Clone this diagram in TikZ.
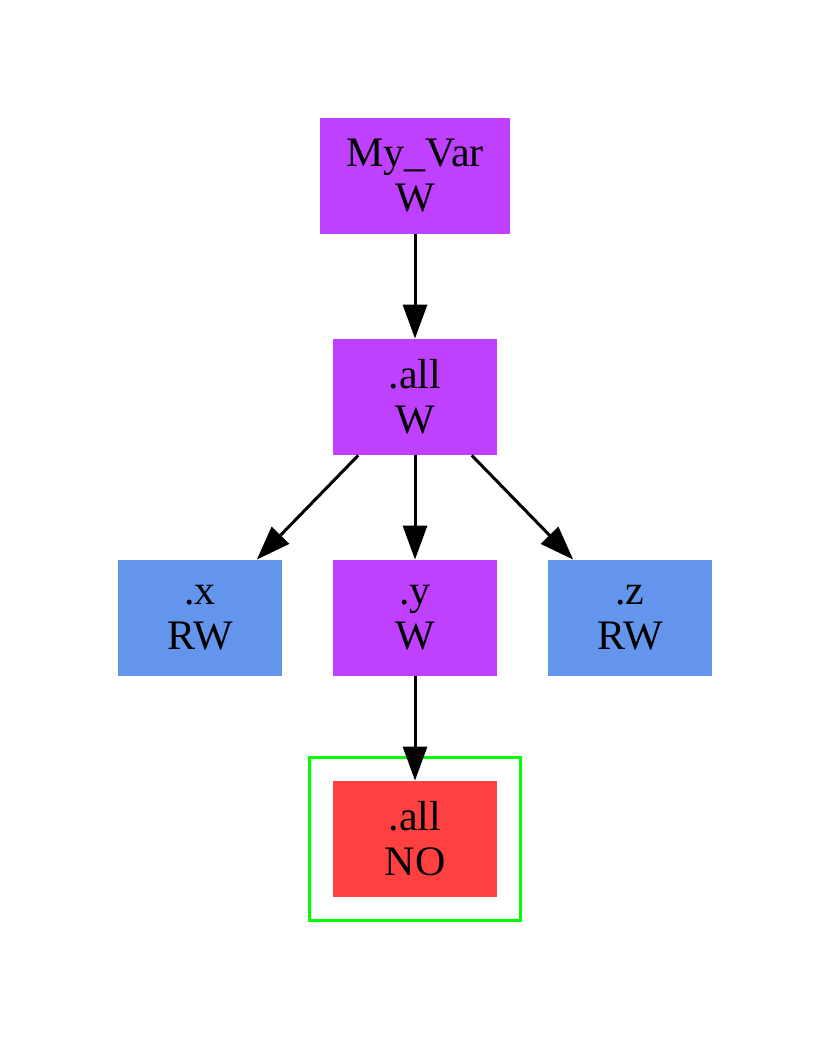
\documentclass[tikz,border=0pt]{standalone}
\usepackage{fontspec}
\setmainfont{Liberation Serif}
\usetikzlibrary{arrows.meta,fit}
\definecolor{figP}{RGB}{191,64,255}
\definecolor{figB}{RGB}{100,149,237}
\definecolor{figR}{RGB}{255,64,64}
\definecolor{figG}{RGB}{0,255,0}

\begin{document}
\begin{tikzpicture}[x=0.5pt,y=-0.5pt,>={Triangle[length=17pt,width=12pt]},
  var/.style={rectangle,minimum width=82pt,minimum height=58pt,inner sep=2pt,align=center,font=\fontsize{21}{22.5}\selectfont},
  edge/.style={->,line width=1.5pt,black}]
\useasboundingbox (0,0) rectangle (830,1063);
\node[var,fill=figP,minimum width=95pt] (myvar) at (415,176) {My\_Var\\W};
\node[var,fill=figP] (all) at (415,397) {.all\\W};
\node[var,fill=figB] (x) at (200,618) {.x\\RW};
\node[var,fill=figP] (y) at (415,618) {.y\\W};
\node[var,fill=figB] (z) at (630,618) {.z\\RW};
\node[var,fill=figR] (allno) at (415,839) {.all\\NO};
\node[draw=figG,line width=1.4pt,inner sep=11.5pt,fit=(allno)] (clust) {};
\draw[edge] (myvar)--(all);
\draw[edge] (all)--(x); \draw[edge] (all)--(y); \draw[edge] (all)--(z);
\draw[edge] (y)--(allno);
\end{tikzpicture}
\end{document}
